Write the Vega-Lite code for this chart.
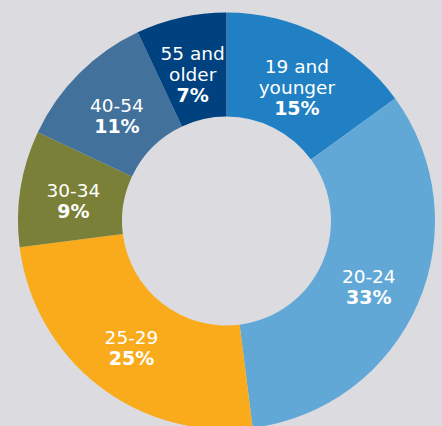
{
  "$schema": "https://vega.github.io/schema/vega-lite/v6.json",
  "width": 417,
  "height": 410,
  "autosize": "none",
  "padding": {"left": 18, "top": 16, "right": 7, "bottom": 0},
  "background": "#dcdce0",
  "view": {"stroke": null},
  "data": {
    "values": [
      {"group": "19 and younger", "line1": "19 and", "line2": "younger", "value": 15},
      {"group": "20-24", "line1": "20-24", "value": 33},
      {"group": "25-29", "line1": "25-29", "value": 25},
      {"group": "30-34", "line1": "30-34", "value": 9},
      {"group": "40-54", "line1": "40-54", "value": 11},
      {"group": "55 and older", "line1": "55 and", "line2": "older", "value": 7}
    ]
  },
  "transform": [
    {"calculate": "isValid(datum.line2) ? datum.line1 : ''", "as": "t3a"},
    {"calculate": "isValid(datum.line2) ? datum.line2 : ''", "as": "t3b"},
    {"calculate": "isValid(datum.line2) ? datum.value + '%' : ''", "as": "t3c"},
    {"calculate": "isValid(datum.line2) ? '' : datum.line1", "as": "t2a"},
    {"calculate": "isValid(datum.line2) ? '' : datum.value + '%'", "as": "t2b"}
  ],
  "encoding": {
    "theta": {"field": "value", "type": "quantitative", "stack": true},
    "order": {"field": "group", "type": "ordinal", "sort": "ascending"}
  },
  "layer": [
    {
      "mark": {"type": "arc", "innerRadius": 104.5, "outerRadius": 208.5},
      "encoding": {
        "color": {
          "field": "group",
          "type": "nominal",
          "scale": {
            "domain": ["19 and younger", "20-24", "25-29", "30-34", "40-54", "55 and older"],
            "range": ["#2080c3", "#62a8d7", "#f9ab1c", "#7a8038", "#42729b", "#004280"]
          },
          "legend": null
        }
      }
    },
    {
      "mark": {"type": "text", "radius": 155, "font": "DejaVu Sans", "fontSize": 18.5, "fill": "#ffffff", "align": "center", "baseline": "alphabetic", "dy": -10},
      "encoding": {"text": {"field": "t3a", "type": "nominal"}}
    },
    {
      "mark": {"type": "text", "radius": 155, "font": "DejaVu Sans", "fontSize": 18.5, "fill": "#ffffff", "align": "center", "baseline": "alphabetic", "dy": 11},
      "encoding": {"text": {"field": "t3b", "type": "nominal"}}
    },
    {
      "mark": {"type": "text", "radius": 155, "font": "DejaVu Sans", "fontSize": 19, "fontWeight": "bold", "fill": "#ffffff", "align": "center", "baseline": "alphabetic", "dy": 32},
      "encoding": {"text": {"field": "t3c", "type": "nominal"}}
    },
    {
      "mark": {"type": "text", "radius": 155, "font": "DejaVu Sans", "fontSize": 18.5, "fill": "#ffffff", "align": "center", "baseline": "alphabetic", "dy": 0.5},
      "encoding": {"text": {"field": "t2a", "type": "nominal"}}
    },
    {
      "mark": {"type": "text", "radius": 155, "font": "DejaVu Sans", "fontSize": 19, "fontWeight": "bold", "fill": "#ffffff", "align": "center", "baseline": "alphabetic", "dy": 21.5},
      "encoding": {"text": {"field": "t2b", "type": "nominal"}}
    }
  ]
}
